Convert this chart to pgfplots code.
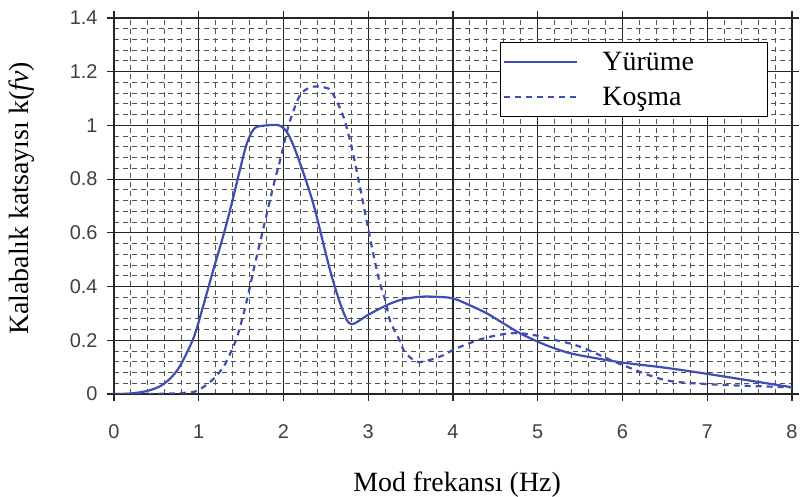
\documentclass[border=0pt]{standalone}
\usepackage{fontspec}
\setmainfont{Liberation Serif}
\newfontfamily\arial{Liberation Sans}
\usepackage{pgfplots}
\pgfplotsset{compat=1.18}
\definecolor{curve}{RGB}{62,78,178}

\begin{document}
\begin{tikzpicture}
\path[use as bounding box] (0,0) rectangle (803bp,497bp);
\begin{axis}[
  at={(114bp,103bp)}, anchor=south west,
  width=678bp, height=376bp, scale only axis,
  xmin=0, xmax=8, ymin=0, ymax=1.4,
  xtick={0,1,2,3,4,5,6,7,8},
  ytick={0,0.2,0.4,0.6,0.8,1,1.2,1.4},
  minor x tick num=4, minor y tick num=4,
  grid=both,
  major grid style={black!85, line width=1.2bp},
  minor grid style={black!68, line width=1bp, dash pattern=on 5bp off 4bp},
  axis line style={black!85, line width=1.2bp},
  tick align=outside, major tick length=7bp, minor tick length=0pt,
  tick style={black!85, line width=1.2bp},
  tick label style={font=\arial\fontsize{20}{22}\selectfont, text=black!75},
  /pgf/number format/assume math mode=true,
  xticklabel style={yshift=-20bp},
  yticklabel style={xshift=-6bp},
  xlabel={Mod frekansı (Hz)},
  ylabel={Kalabalık katsayısı k(\textit{fv})},
  label style={font=\fontsize{28}{32}\selectfont},
  xlabel style={at={(axis description cs:0.506,-0.258)}, anchor=base},
  ylabel style={at={(axis description cs:-0.1254,0.52)}, anchor=base},
  legend cell align=left,
  legend image code/.code={\draw[#1] (0bp,0bp) -- (73bp,0bp);},
  legend style={at={(0.569,0.937)}, anchor=north west, draw=black,
    line width=1bp, fill=white, font=\fontsize{28}{32}\selectfont,
    inner xsep=3bp, inner ysep=8bp, row sep=11bp,
    /tikz/every odd column/.append style={column sep=22bp}},
]
\addplot[curve, line width=2.2bp, smooth, tension=0.5] coordinates {
(0,0) (0.2,0.002) (0.4,0.012) (0.55,0.03) (0.67,0.06) (0.78,0.105)
(0.94,0.21) (1.05,0.325) (1.17,0.46) (1.29,0.59) (1.39,0.71) (1.49,0.84)
(1.57,0.935) (1.66,0.99) (1.8,1.0) (1.95,1.0) (2.05,0.97) (2.16,0.89)
(2.35,0.71) (2.55,0.46) (2.7,0.31) (2.8,0.26) (3.0,0.295) (3.22,0.331)
(3.4,0.352) (3.61,0.362) (3.8,0.362) (4.0,0.356) (4.2,0.33) (4.4,0.30)
(4.6,0.262) (4.79,0.226) (5.0,0.195) (5.18,0.172) (5.38,0.152) (5.6,0.138)
(6.0,0.117) (6.5,0.098) (7.0,0.075) (7.5,0.05) (8,0.025)};
\addlegendentry{\makebox[160bp][l]{Yürüme}}
\addplot[curve, line width=2.2bp, dash pattern=on 6bp off 5bp, smooth, tension=0.5] coordinates {
(0,0) (0.4,0.0) (0.7,0.002) (0.94,0.008) (1.05,0.025) (1.17,0.055)
(1.29,0.10) (1.37,0.15) (1.45,0.21) (1.53,0.30) (1.59,0.38) (1.66,0.48)
(1.72,0.56) (1.78,0.64) (1.84,0.72) (1.90,0.80) (1.96,0.87) (2.02,0.95)
(2.08,1.02) (2.19,1.11) (2.3,1.14) (2.39,1.145) (2.5,1.14) (2.57,1.125)
(2.71,1.03) (2.82,0.896) (2.94,0.71) (3.06,0.52) (3.14,0.41) (3.2,0.35)
(3.26,0.27) (3.37,0.20) (3.43,0.157) (3.57,0.12) (3.73,0.127) (3.89,0.145)
(4.04,0.17) (4.36,0.207) (4.67,0.226) (4.91,0.222) (5.22,0.20) (5.5,0.176)
(6.0,0.108) (6.5,0.052) (7.0,0.037) (7.5,0.03) (8,0.025)};
\addlegendentry{\makebox[160bp][l]{Koşma}}
\end{axis}
\end{tikzpicture}
\end{document}
